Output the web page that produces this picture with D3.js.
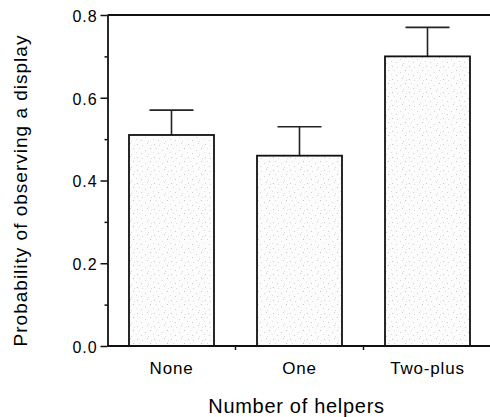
<!DOCTYPE html>
<html>
<head>
<meta charset="utf-8">
<script src="https://cdn.jsdelivr.net/npm/d3@7"></script>
<style>
  html, body { margin: 0; padding: 0; background: #fff; }
  svg { display: block; font-family: "Liberation Sans", Arial, Helvetica, sans-serif; }
</style>
</head>
<body>
<svg id="chart" width="490" height="417"></svg>
<script>
// ---- data ----
const categories = ["None", "One", "Two-plus"];
const probabilities = [0.51, 0.46, 0.70];
const errorsUp = [0.06, 0.07, 0.07];
const yMajorTicks = [0.0, 0.2, 0.4, 0.6, 0.8];
const yMinorTicks = [0.1, 0.3, 0.5, 0.7];
const xTitle = "Number of helpers";
const yTitle = "Probability of observing a display";

// ---- layout ----
const svg = d3.select("#chart");
const plotLeft = 107.5, plotRight = 491.5, plotTop = 15, plotBottom = 346;

const x = d3.scaleBand().domain(categories).range([plotLeft, plotRight])
  .paddingInner(0.336).paddingOuter(0.168);
const y = d3.scaleLinear().domain([0, 0.8]).range([plotBottom, plotTop]);

// stipple pattern
const defs = svg.append("defs");
const pat = defs.append("pattern").attr("id", "stipple")
  .attr("patternUnits", "userSpaceOnUse").attr("width", 17).attr("height", 13);
pat.append("rect").attr("width", 17).attr("height", 13).attr("fill", "#fcfcfc");
const dots = [[1,1,"#c8c8c8"],[6,2,"#d8d8d8"],[11,0,"#cfcfcf"],[3,5,"#dcdcdc"],[14,5,"#c4c4c4"],
              [9,7,"#d4d4d4"],[0,9,"#dedede"],[5,10,"#cccccc"],[12,11,"#d9d9d9"],[15,2,"#e0e0e0"]];
dots.forEach(d => pat.append("rect").attr("x", d[0]).attr("y", d[1])
  .attr("width", 1).attr("height", 1).attr("fill", d[2]));

const rows = categories.map((c, i) => ({ c, v: probabilities[i], e: errorsUp[i] }));

// error bars (drawn first so bar outline sits on top)
const capHalf = 22;
const eg = svg.append("g").attr("stroke", "#222").attr("stroke-width", 1.6);
eg.selectAll("line.stem").data(rows).join("line").attr("class", "stem")
  .attr("x1", d => x(d.c) + x.bandwidth() / 2).attr("x2", d => x(d.c) + x.bandwidth() / 2)
  .attr("y1", d => y(d.v)).attr("y2", d => y(d.v + d.e));
eg.selectAll("line.cap").data(rows).join("line").attr("class", "cap")
  .attr("x1", d => x(d.c) + x.bandwidth() / 2 - capHalf)
  .attr("x2", d => x(d.c) + x.bandwidth() / 2 + capHalf)
  .attr("y1", d => y(d.v + d.e)).attr("y2", d => y(d.v + d.e));

// bars
svg.append("g").selectAll("rect").data(rows).join("rect")
  .attr("x", d => x(d.c)).attr("width", x.bandwidth())
  .attr("y", d => y(d.v)).attr("height", d => y(0) - y(d.v))
  .attr("fill", "url(#stipple)").attr("stroke", "#111").attr("stroke-width", 1.8);

// top frame line
svg.append("line").attr("x1", plotLeft).attr("x2", 490).attr("y1", y(0.8)).attr("y2", y(0.8))
  .attr("stroke", "#111").attr("stroke-width", 1.8);

// y axis
const yAxis = svg.append("g").attr("transform", `translate(${plotLeft},0)`)
  .call(d3.axisLeft(y).tickValues(yMajorTicks).tickFormat(d3.format(".1f"))
    .tickSize(7).tickSizeOuter(0).tickPadding(3));
yAxis.select(".domain").attr("stroke", "#111").attr("stroke-width", 1.8);
yAxis.selectAll(".tick line").attr("stroke", "#111").attr("stroke-width", 1.5);
yAxis.selectAll(".tick text").attr("font-size", 16).attr("fill", "#000")
  .attr("letter-spacing", "0.9px").attr("dy", "0.4em").attr("font-family", "Liberation Sans, Arial, sans-serif");

const yMinor = svg.append("g").attr("transform", `translate(${plotLeft},0)`)
  .call(d3.axisLeft(y).tickValues(yMinorTicks).tickFormat("").tickSize(3).tickSizeOuter(0));
yMinor.select(".domain").remove();
yMinor.selectAll(".tick line").attr("stroke", "#111").attr("stroke-width", 1.5);

// x axis
svg.append("line").attr("x1", plotLeft).attr("x2", 490).attr("y1", y(0)).attr("y2", y(0))
  .attr("stroke", "#111").attr("stroke-width", 1.8);
const xAxis = svg.append("g").attr("transform", `translate(0,${y(0)})`)
  .call(d3.axisBottom(x).tickSize(0).tickSizeOuter(0));
xAxis.select(".domain").remove();
xAxis.selectAll(".tick text").attr("font-size", 17).attr("fill", "#000")
  .attr("letter-spacing", "0.8px").attr("y", 28).attr("dy", "0")
  .attr("font-family", "Liberation Sans, Arial, sans-serif");
// separator ticks between categories
const gap = x.step() * x.paddingInner() / 2;
const seps = categories.slice(1).map(c => x(c) - gap);
svg.append("g").selectAll("line").data(seps).join("line")
  .attr("x1", d => d).attr("x2", d => d).attr("y1", y(0)).attr("y2", y(0) + 4)
  .attr("stroke", "#111").attr("stroke-width", 1.5);

// titles
svg.append("text").attr("x", 296.5).attr("y", 413).attr("text-anchor", "middle")
  .attr("font-size", 20).attr("letter-spacing", "0.7px").attr("fill", "#000").text(xTitle);
svg.append("text").attr("transform", "translate(26.5,190.5) rotate(-90)")
  .attr("text-anchor", "middle").attr("font-size", 19).attr("letter-spacing", "1px")
  .attr("fill", "#000").text(yTitle);
</script>
</body>
</html>
